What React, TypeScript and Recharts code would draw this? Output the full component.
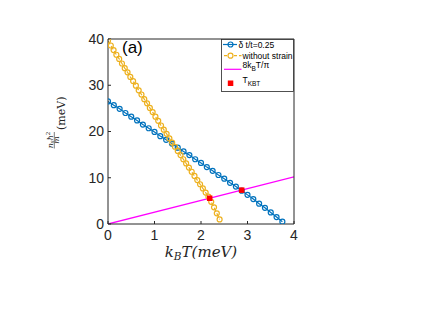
import React from 'react';
import {
  ComposedChart,
  Line,
  XAxis,
  YAxis,
  Legend,
  Label,
} from 'recharts';

// k_B T (meV) and superfluid stiffness n_s hbar^2 / m (meV)
const STRAIN_T = [
  0, 0.125, 0.25, 0.375, 0.5, 0.625, 0.75, 0.875, 1.0, 1.125, 1.25, 1.375, 1.5, 1.625, 1.75,
  1.875, 2.0, 2.125, 2.25, 2.375, 2.5, 2.625, 2.75, 2.875, 3.0, 3.125, 3.25, 3.375, 3.5, 3.625,
  3.75,
];
const STRAIN_RHO = [
  26.5, 25.7, 24.9, 24.0, 23.2, 22.4, 21.5, 20.7, 19.9, 19.0, 18.2, 17.4, 16.5, 15.7, 14.9,
  14.0, 13.2, 12.3, 11.5, 10.6, 9.8, 8.9, 8.1, 7.2, 6.3, 5.4, 4.4, 3.5, 2.5, 1.5, 0.5,
];

const NOSTRAIN_T = [
  0, 0.06, 0.12, 0.18, 0.24, 0.3, 0.36, 0.42, 0.48, 0.54, 0.6, 0.66, 0.72, 0.78, 0.84, 0.9,
  0.96, 1.02, 1.08, 1.14, 1.2, 1.26, 1.32, 1.38, 1.44, 1.5, 1.56, 1.62, 1.68, 1.74, 1.8, 1.86,
  1.92, 1.98, 2.04, 2.1, 2.16, 2.22, 2.28, 2.34, 2.4,
];
const NOSTRAIN_RHO = [
  39.6, 38.6, 37.6, 36.6, 35.7, 34.7, 33.7, 32.8, 31.8, 30.9, 29.9, 28.9, 28.0, 27.0, 26.1,
  25.1, 24.2, 23.2, 22.3, 21.3, 20.4, 19.5, 18.5, 17.6, 16.7, 15.8, 14.9, 14.0, 13.1, 12.2,
  11.3, 10.4, 9.5, 8.6, 7.7, 6.8, 5.9, 4.8, 3.6, 2.3, 1.0,
];

const BKT_LINE_T = [0, 4];
const BKT_LINE_Y = [0, 10.19];

const TKBT_T = [2.187, 2.875];
const TKBT_Y = [5.57, 7.32];

const X_TICKS = [0, 1, 2, 3, 4];
const Y_TICKS = [0, 10, 20, 30, 40];

const BLUE = '#0072BD';
const ORANGE = '#EDB120';
const MAGENTA = '#FF00FF';
const RED = '#FF0000';
const AXIS = '#262626';

const zip = (ts: number[], vs: number[]) => ts.map((t, i) => ({ t, v: vs[i] }));

const strainData = zip(STRAIN_T, STRAIN_RHO);
const noStrainData = zip(NOSTRAIN_T, NOSTRAIN_RHO);
const lineData = zip(BKT_LINE_T, BKT_LINE_Y);
const tkbtData = zip(TKBT_T, TKBT_Y);

const tickFont = { fontFamily: 'Liberation Sans, Arial, sans-serif', fontSize: 14, fill: AXIS };
const legendFont = { fontFamily: 'Liberation Sans, Arial, sans-serif', fontSize: 8.5, fill: '#000' };

function LegendBox() {
  return (
    <svg width={73} height={53} style={{ display: 'block' }}>
      <rect x={0.5} y={0.5} width={72} height={52} fill="#fff" stroke={AXIS} strokeWidth={0.8} />
      {/* δ t/t = 0.25 */}
      <line x1={2} y1={5.5} x2={16} y2={5.5} stroke={BLUE} strokeWidth={1.2} />
      <circle cx={9.5} cy={5.5} r={2.5} fill="none" stroke={BLUE} strokeWidth={1.2} />
      <text x={17.5} y={8.5} {...legendFont}>δ t/t=0.25</text>
      {/* without strain */}
      <line x1={3} y1={16.7} x2={20.5} y2={16.7} stroke={ORANGE} strokeWidth={1.2} strokeDasharray="3 2" />
      <circle cx={9.5} cy={16.7} r={2.5} fill="#fff" stroke={ORANGE} strokeWidth={1.2} />
      <text x={21.5} y={19.7} {...legendFont}>without strain</text>
      {/* 8 k_B T / pi */}
      <line x1={3} y1={30.3} x2={20.5} y2={30.3} stroke={MAGENTA} strokeWidth={1.2} />
      <text x={21.5} y={29} {...legendFont}>
        8k<tspan dy={3} fontSize={6.5}>B</tspan>
        <tspan dy={-3}>T/π</tspan>
      </text>
      {/* T_KBT */}
      <rect x={6.8} y={41.5} width={5.5} height={5.5} fill={RED} />
      <text x={21.5} y={43.5} {...legendFont}>
        T<tspan dy={3} fontSize={6.5}>KBT</tspan>
      </text>
    </svg>
  );
}

function XLabel(props: any) {
  const vb = props.viewBox;
  const cx = vb.x + vb.width / 2;
  return (
    <text
      x={cx}
      y={vb.y + 33}
      textAnchor="middle"
      fontFamily="DejaVu Serif, serif"
      fontStyle="italic"
      fontSize={15}
      fill={AXIS}
    >
      k<tspan dy={3} fontSize={10.5}>B</tspan>
      <tspan dy={-3}>T(meV)</tspan>
    </text>
  );
}

function YLabel(props: any) {
  const vb = props.viewBox;
  const px = vb.x + vb.width;
  const cy = vb.y + vb.height / 2;
  return (
    <g transform={`translate(${px},${cy}) rotate(-90)`} fill={AXIS} fontFamily="DejaVu Serif, serif">
      <text x={-8.5} y={-55.5} textAnchor="middle" fontStyle="italic" fontSize={8}>
        n<tspan dy={1.5} fontSize={5.5}>s</tspan>
        <tspan dy={-1.5}>ħ</tspan>
        <tspan dy={-3} fontSize={5.5} fontStyle="normal">2</tspan>
      </text>
      <line x1={-17} y1={-53.7} x2={-0.5} y2={-53.7} stroke={AXIS} strokeWidth={0.6} />
      <text x={-8.5} y={-49.5} textAnchor="middle" fontStyle="italic" fontSize={8}>m</text>
      <text x={1.5} y={-43} fontSize={11}>(meV)</text>
    </g>
  );
}

function PanelTag(props: any) {
  const vb = props.viewBox;
  return (
    <text x={vb.x + 14} y={vb.y + vb.height + 14} fontFamily="Liberation Sans, Arial, sans-serif" fontSize={17} fill="#000">
      (a)
    </text>
  );
}

const SquareMark = (props: any) => (
  <rect key={props.key} x={props.cx - 2.75} y={props.cy - 2.75} width={5.5} height={5.5} fill={RED} />
);

export default function App() {
  return (
    <ComposedChart
      width={427}
      height={295}
      margin={{ top: 21, right: 131, bottom: 49, left: 60 }}
    >
      <XAxis
        dataKey="t"
        type="number"
        domain={[0, 4]}
        ticks={X_TICKS}
        allowDataOverflow
        height={30}
        stroke={AXIS}
        tick={tickFont}
        tickSize={-3}
        tickMargin={9}
      >
        <Label content={XLabel} />
      </XAxis>
      <XAxis
        xAxisId="top"
        orientation="top"
        type="number"
        domain={[0, 4]}
        ticks={X_TICKS}
        height={10}
        stroke={AXIS}
        tickSize={-3}
        tickFormatter={() => ''}
      >
        <Label content={PanelTag} />
      </XAxis>
      <YAxis
        type="number"
        domain={[0, 40]}
        ticks={Y_TICKS}
        allowDataOverflow
        width={40}
        stroke={AXIS}
        tick={tickFont}
        tickSize={-3}
        tickMargin={7}
      >
        <Label content={YLabel} />
      </YAxis>
      <YAxis
        yAxisId="right"
        orientation="right"
        type="number"
        domain={[0, 40]}
        ticks={Y_TICKS}
        width={10}
        stroke={AXIS}
        tickSize={-3}
        tickFormatter={() => ''}
      />
      <Line
        data={strainData}
        dataKey="v"
        type="linear"
        stroke={BLUE}
        strokeWidth={1.2}
        dot={{ r: 2.5, fill: 'none', stroke: BLUE, strokeWidth: 1.2 }}
        isAnimationActive={false}
      />
      <Line
        data={noStrainData}
        dataKey="v"
        type="linear"
        stroke={ORANGE}
        strokeWidth={1.2}
        strokeDasharray="4 2"
        dot={{ r: 2.5, fill: 'none', stroke: ORANGE, strokeWidth: 1.2, strokeDasharray: '' }}
        isAnimationActive={false}
      />
      <Line
        data={lineData}
        dataKey="v"
        type="linear"
        stroke={MAGENTA}
        strokeWidth={1.3}
        dot={false}
        isAnimationActive={false}
      />
      <Line
        data={tkbtData}
        dataKey="v"
        type="linear"
        stroke="none"
        dot={SquareMark}
        activeDot={false}
        isAnimationActive={false}
      />
      <Legend
        layout="horizontal"
        verticalAlign="middle"
        align="center"
        content={() => <LegendBox />}
        wrapperStyle={{ left: 213, top: 31, width: 73, height: 53 }}
      />
    </ComposedChart>
  );
}
